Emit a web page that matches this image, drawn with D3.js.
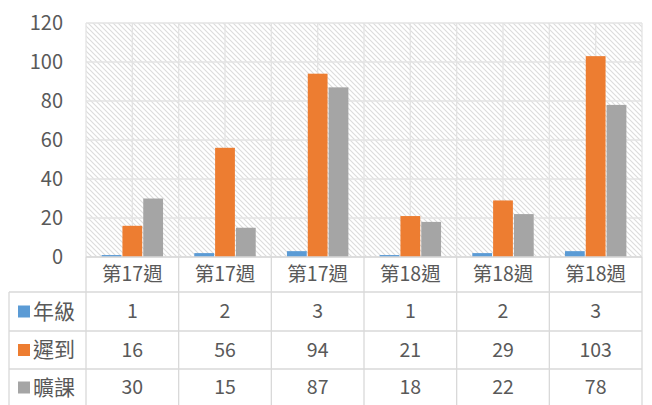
<!DOCTYPE html>
<html>
<head>
<meta charset="utf-8">
<script src="https://cdn.jsdelivr.net/npm/d3@7"></script>
<style>
  body { margin: 0; background: #fff; }
  text { font-family: "Noto Sans CJK TC", "Noto Sans", sans-serif; fill: #595959; }
</style>
</head>
<body>
<svg id="chart" width="652" height="405"></svg>
<script>
var categories = ["第17週", "第17週", "第17週", "第18週", "第18週", "第18週"];
var seriesNames = ["年級", "遲到", "曠課"];
var grade = [1, 2, 3, 1, 2, 3];
var late = [16, 56, 94, 21, 29, 103];
var absent = [30, 15, 87, 18, 22, 78];
var yTicks = [0, 20, 40, 60, 80, 100, 120];

var colors = ["#5b9bd5", "#ed7d31", "#a5a5a5"];
var series = [grade, late, absent];

var svg = d3.select("#chart");
var plotL = 86, plotR = 642, plotT = 23, plotB = 257;
var rowY = [257, 292, 331, 369, 406];

// hatched plot background
var defs = svg.append("defs");
var pat = defs.append("pattern")
    .attr("id", "hatch")
    .attr("patternUnits", "userSpaceOnUse")
    .attr("width", 5).attr("height", 5);
pat.append("rect").attr("width", 5).attr("height", 5).attr("fill", "#fff");
pat.append("path")
    .attr("d", "M-1,-1 L6,6 M-1,4 L1,6 M4,-1 L6,1")
    .attr("stroke", "#dcdcdc").attr("stroke-width", 1.1);

var x = d3.scaleBand()
    .domain(d3.range(categories.length))
    .range([plotL, plotR]);

var xs = d3.scaleBand()
    .domain(d3.range(series.length))
    .range([0, x.bandwidth()])
    .paddingInner(0.05)
    .paddingOuter(0.75);

var y = d3.scaleLinear()
    .domain([0, 120])
    .range([plotB, plotT]);

svg.append("rect")
    .attr("x", plotL).attr("y", plotT)
    .attr("width", plotR - plotL).attr("height", plotB - plotT)
    .attr("fill", "url(#hatch)");

// gridlines
svg.append("g").selectAll("line")
    .data(yTicks)
  .enter().append("line")
    .attr("x1", plotL).attr("x2", plotR)
    .attr("y1", function(d){ return y(d); })
    .attr("y2", function(d){ return y(d); })
    .attr("stroke", "#e3e3e3").attr("stroke-width", 1.3);

var vx = [];
for (var i = 0; i <= categories.length * 2; i++) vx.push(plotL + i * x.bandwidth() / 2);
svg.append("g").selectAll("line")
    .data(vx)
  .enter().append("line")
    .attr("x1", function(d){ return d; }).attr("x2", function(d){ return d; })
    .attr("y1", plotT).attr("y2", plotB)
    .attr("stroke", "#e3e3e3").attr("stroke-width", 1.3);

// y axis labels
svg.append("g").selectAll("text")
    .data(yTicks)
  .enter().append("text")
    .attr("x", 63)
    .attr("y", function(d){ return y(d); })
    .attr("dy", "0.35em")
    .attr("text-anchor", "end")
    .style("font-size", "20px")
    .text(function(d){ return d; });

// bars
series.forEach(function(vals, s) {
  svg.append("g").selectAll("rect")
      .data(vals)
    .enter().append("rect")
      .attr("x", function(d, i){ return x(i) + xs(s); })
      .attr("y", function(d){ return y(d); })
      .attr("width", xs.bandwidth())
      .attr("height", function(d){ return plotB - y(d); })
      .attr("fill", colors[s]);
});

// data table lines
var tbl = svg.append("g").attr("stroke", "#d9d9d9").attr("stroke-width", 1.3);
tbl.append("line").attr("x1", plotL).attr("x2", plotR).attr("y1", plotB).attr("y2", plotB);
for (var r = 1; r < rowY.length - 1; r++) {
  tbl.append("line").attr("x1", 9).attr("x2", plotR).attr("y1", rowY[r]).attr("y2", rowY[r]);
}
tbl.append("line").attr("x1", 9).attr("x2", 9).attr("y1", rowY[1]).attr("y2", 405);
for (var c = 0; c <= categories.length; c++) {
  var cx = plotL + c * x.bandwidth();
  tbl.append("line").attr("x1", cx).attr("x2", cx).attr("y1", plotB).attr("y2", 405);
}

// category labels
svg.append("g").selectAll("text")
    .data(categories)
  .enter().append("text")
    .attr("x", function(d, i){ return x(i) + x.bandwidth() / 2; })
    .attr("y", (rowY[0] + rowY[1]) / 2)
    .attr("dy", "0.35em")
    .attr("text-anchor", "middle")
    .style("font-size", "19.5px")
    .text(function(d){ return d; });

// table rows
series.forEach(function(vals, s) {
  var cy = (rowY[s + 1] + rowY[s + 2]) / 2;
  svg.append("rect")
      .attr("x", 18).attr("y", cy - 6)
      .attr("width", 12).attr("height", 12)
      .attr("fill", colors[s]);
  svg.append("text")
      .attr("x", 33).attr("y", cy).attr("dy", "0.35em")
      .style("font-size", "21px")
      .text(seriesNames[s]);
  svg.append("g").selectAll("text")
      .data(vals)
    .enter().append("text")
      .attr("x", function(d, i){ return x(i) + x.bandwidth() / 2; })
      .attr("y", cy).attr("dy", "0.35em")
      .attr("text-anchor", "middle")
      .style("font-size", "19.5px")
      .text(function(d){ return d; });
});
</script>
</body>
</html>
